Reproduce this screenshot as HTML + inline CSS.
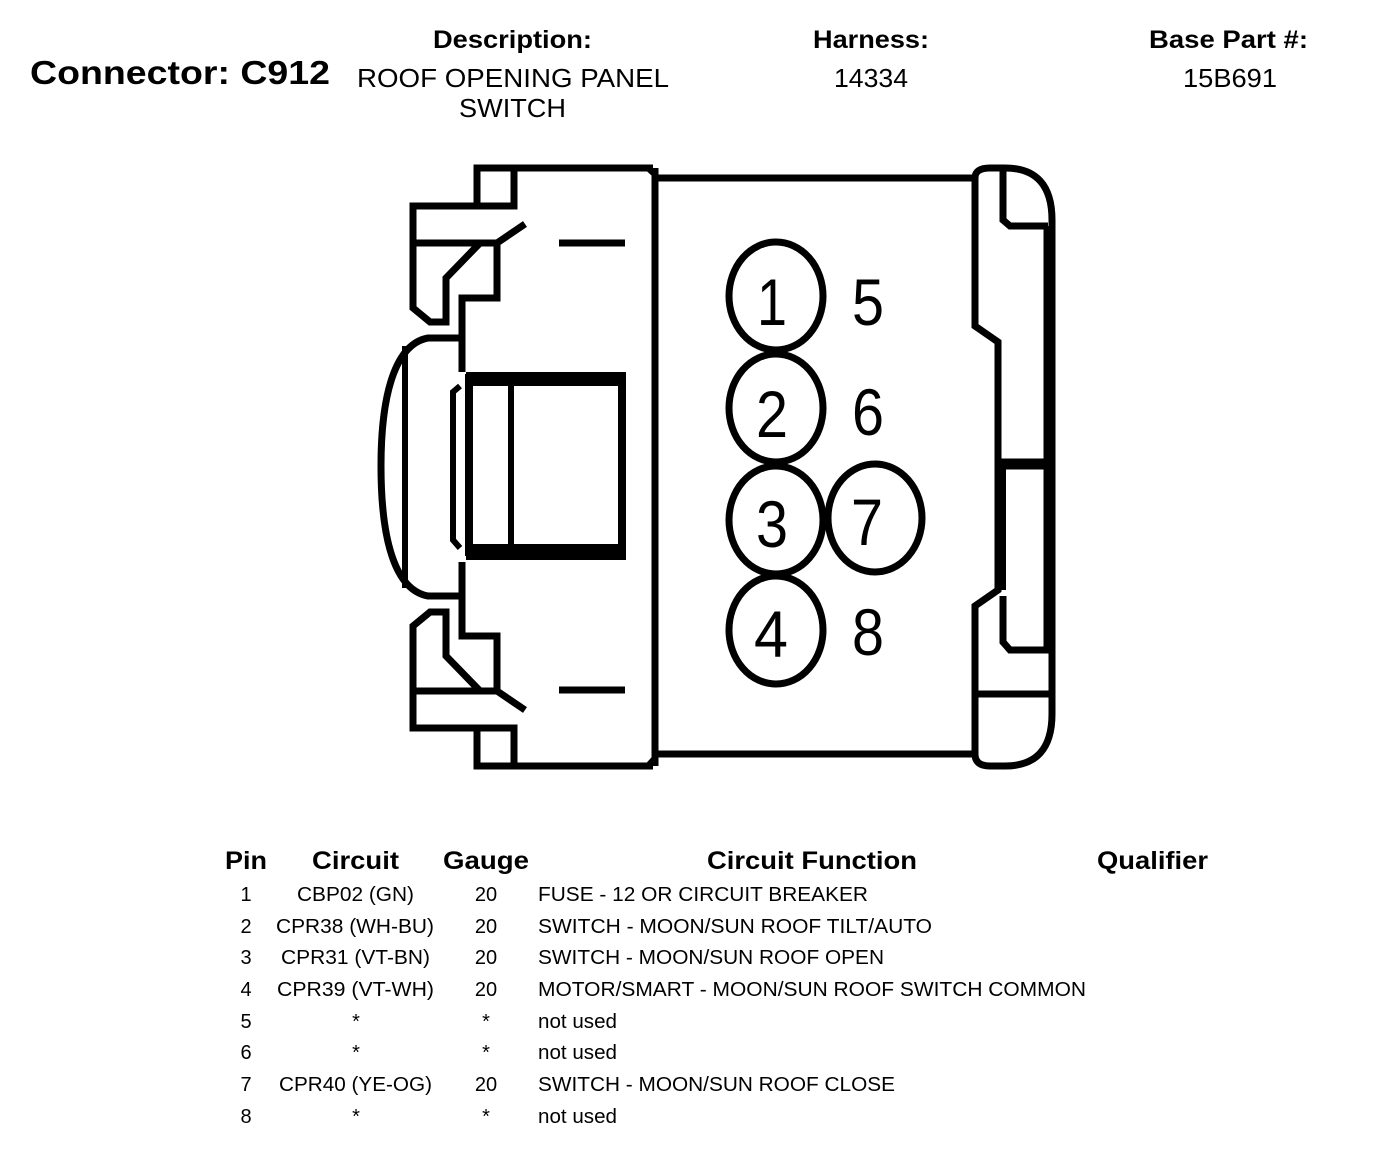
<!DOCTYPE html>
<html><head><meta charset="utf-8"><style>
html,body{margin:0;padding:0;background:#fff;}
svg{display:block;font-family:"Liberation Sans",Arial,sans-serif;}
</style></head><body>
<svg width="1376" height="1154" viewBox="0 0 1376 1154" xmlns="http://www.w3.org/2000/svg">
<rect width="1376" height="1154" fill="#fff"/>
<g fill="#000">
<text x="30" y="84" font-size="33" font-weight="bold" textLength="300" lengthAdjust="spacingAndGlyphs">Connector: C912</text>
<text x="433" y="48" font-size="25" font-weight="bold" textLength="159" lengthAdjust="spacingAndGlyphs">Description:</text>
<text x="357" y="87" font-size="26" textLength="312" lengthAdjust="spacingAndGlyphs">ROOF OPENING PANEL</text>
<text x="459" y="117" font-size="26" textLength="107" lengthAdjust="spacingAndGlyphs">SWITCH</text>
<text x="813" y="48" font-size="25" font-weight="bold" textLength="116" lengthAdjust="spacingAndGlyphs">Harness:</text>
<text x="834" y="87" font-size="26" textLength="74" lengthAdjust="spacingAndGlyphs">14334</text>
<text x="1149" y="48" font-size="25" font-weight="bold" textLength="159" lengthAdjust="spacingAndGlyphs">Base Part #:</text>
<text x="1183" y="87" font-size="26" textLength="94" lengthAdjust="spacingAndGlyphs">15B691</text>
</g>
<g fill="none" stroke="#000" stroke-width="7" stroke-linejoin="miter">
<path d="M653,168 L477,168 L477,206 L514,206 L514,168"/>
<path d="M477,206 L413,206 L413,308 L430,322 L446,322 L446,278 L480,243"/>
<path d="M413,243 L497,243 L525,224"/>
<path d="M497,243 L497,298 L462,298 L462,372"/>
<path d="M653,766 L477,766 L477,728 L514,728 L514,766"/>
<path d="M477,728 L413,728 L413,626 L430,612 L446,612 L446,656 L480,691"/>
<path d="M413,691 L497,691 L525,710"/>
<path d="M497,691 L497,636 L462,636 L462,562"/>
<path d="M462,338 L428,338 C395,344 381,395 381,466 C381,540 395,590 428,596 L462,596"/>
<line x1="405" y1="346" x2="405" y2="588" stroke-width="6"/>
<path d="M460,386 L453,392 L453,540 L460,548" stroke-width="6"/>
<rect x="469" y="378" width="153" height="174" stroke-width="8"/>
<rect x="466" y="372" width="160" height="14" fill="#000" stroke="none"/>
<rect x="466" y="544" width="160" height="16" fill="#000" stroke="none"/>
<line x1="511" y1="380" x2="511" y2="550" stroke-width="6"/>
<line x1="559" y1="243" x2="625" y2="243"/>
<line x1="559" y1="690" x2="625" y2="690"/>
<line x1="655" y1="168" x2="655" y2="766"/>
<path d="M647,168 L658,178 M647,766 L658,754" stroke-width="5"/>
<line x1="655" y1="178" x2="975" y2="178"/>
<line x1="655" y1="754" x2="975" y2="754"/>
<path d="M975,178 Q975,168 990,168 L1005,168 Q1052,168 1052,220 L1052,714 Q1052,766 1005,766 L990,766 Q975,766 975,754"/>
<path d="M975,178 L975,326 L998,342 L998,590 L975,606 L975,754"/>
<path d="M1003,170 L1003,220 L1010,226 L1048,226"/>
<path d="M1047,226 L1047,462 L1000,462"/>
<path d="M1000,466 L1047,466 L1047,650 L1010,650 L1003,642 L1003,596"/>
<line x1="1001" y1="462" x2="1001" y2="590" stroke-width="10"/>
<line x1="975" y1="694" x2="1052" y2="694"/>
<ellipse cx="776" cy="296" rx="47" ry="54"/>
<ellipse cx="776" cy="408" rx="47" ry="54"/>
<ellipse cx="776" cy="520" rx="47" ry="54"/>
<ellipse cx="776" cy="630" rx="47" ry="54"/>
<ellipse cx="875" cy="518" rx="47" ry="54"/>
</g>
<g fill="#000" font-size="66" text-anchor="middle">
<text x="772" y="325" textLength="30" lengthAdjust="spacingAndGlyphs">1</text>
<text x="772" y="437" textLength="32" lengthAdjust="spacingAndGlyphs">2</text>
<text x="772" y="547" textLength="32" lengthAdjust="spacingAndGlyphs">3</text>
<text x="771" y="657" textLength="34" lengthAdjust="spacingAndGlyphs">4</text>
<text x="867" y="545" textLength="32" lengthAdjust="spacingAndGlyphs">7</text>
<text x="868" y="325" textLength="32" lengthAdjust="spacingAndGlyphs">5</text>
<text x="868" y="435" textLength="32" lengthAdjust="spacingAndGlyphs">6</text>
<text x="868" y="655" textLength="32" lengthAdjust="spacingAndGlyphs">8</text>
</g>
<g fill="#000" font-size="25" font-weight="bold">
<text x="225" y="869" textLength="42" lengthAdjust="spacingAndGlyphs">Pin</text>
<text x="312" y="869" textLength="87" lengthAdjust="spacingAndGlyphs">Circuit</text>
<text x="443" y="869" textLength="86" lengthAdjust="spacingAndGlyphs">Gauge</text>
<text x="707" y="869" textLength="210" lengthAdjust="spacingAndGlyphs">Circuit Function</text>
<text x="1097" y="869" textLength="111" lengthAdjust="spacingAndGlyphs">Qualifier</text>
</g>
<g fill="#000" font-size="20">
<g text-anchor="middle">
<text x="246" y="901">1</text><text x="246" y="933">2</text><text x="246" y="964">3</text><text x="246" y="996">4</text>
<text x="246" y="1028">5</text><text x="246" y="1059">6</text><text x="246" y="1091">7</text><text x="246" y="1123">8</text>
<text x="486" y="901">20</text><text x="486" y="933">20</text><text x="486" y="964">20</text><text x="486" y="996">20</text>
<text x="486" y="1028">*</text><text x="486" y="1059">*</text><text x="486" y="1091">20</text><text x="486" y="1123">*</text>
<text x="356" y="1028">*</text><text x="356" y="1059">*</text><text x="356" y="1123">*</text>
</g>
<text x="297" y="901" textLength="117" lengthAdjust="spacingAndGlyphs">CBP02 (GN)</text>
<text x="276" y="933" textLength="158" lengthAdjust="spacingAndGlyphs">CPR38 (WH-BU)</text>
<text x="281" y="964" textLength="149" lengthAdjust="spacingAndGlyphs">CPR31 (VT-BN)</text>
<text x="277" y="996" textLength="157" lengthAdjust="spacingAndGlyphs">CPR39 (VT-WH)</text>
<text x="279" y="1091" textLength="153" lengthAdjust="spacingAndGlyphs">CPR40 (YE-OG)</text>
<text x="538" y="901" textLength="330" lengthAdjust="spacingAndGlyphs">FUSE - 12 OR CIRCUIT BREAKER</text>
<text x="538" y="933" textLength="394" lengthAdjust="spacingAndGlyphs">SWITCH - MOON/SUN ROOF TILT/AUTO</text>
<text x="538" y="964" textLength="346" lengthAdjust="spacingAndGlyphs">SWITCH - MOON/SUN ROOF OPEN</text>
<text x="538" y="996" textLength="548" lengthAdjust="spacingAndGlyphs">MOTOR/SMART - MOON/SUN ROOF SWITCH COMMON</text>
<text x="538" y="1028" textLength="79" lengthAdjust="spacingAndGlyphs">not used</text>
<text x="538" y="1059" textLength="79" lengthAdjust="spacingAndGlyphs">not used</text>
<text x="538" y="1091" textLength="357" lengthAdjust="spacingAndGlyphs">SWITCH - MOON/SUN ROOF CLOSE</text>
<text x="538" y="1123" textLength="79" lengthAdjust="spacingAndGlyphs">not used</text>
</g>
</svg>
</body></html>
